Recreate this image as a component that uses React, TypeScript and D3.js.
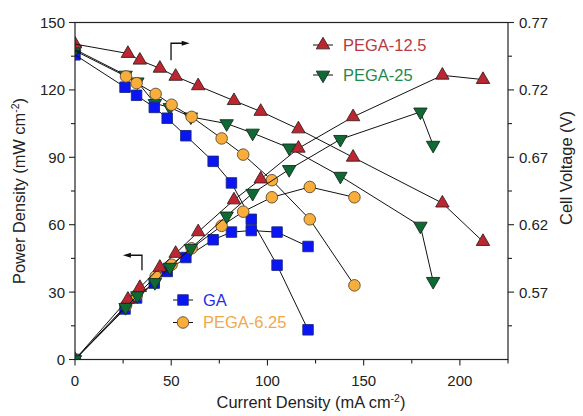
import React from 'react';
import * as d3 from 'd3';

// ---- data (current density mA cm^-2, power density mW cm^-2, cell voltage V)
const GA_J = [0, 26.0, 32.0, 41.2, 47.9, 57.6, 71.8, 81.3, 91.6, 105.0, 121.1];
const GA_P = [0, 22.5, 27.4, 34.0, 39.2, 45.4, 53.3, 56.7, 57.4, 56.7, 50.3];
const GA_V = [0.746, 0.722, 0.716, 0.707, 0.699, 0.686, 0.667, 0.651, 0.624, 0.590, 0.542];

const P625_J = [0, 26.5, 32.0, 41.9, 50.2, 60.6, 76.2, 87.4, 102.3, 122.0, 145.2];
const P625_P = [0, 24.0, 28.5, 37.0, 42.2, 49.5, 59.5, 65.8, 72.2, 76.8, 72.2];
const P625_V = [0.749, 0.730, 0.725, 0.717, 0.709, 0.700, 0.684, 0.672, 0.653, 0.624, 0.575];

const P125_J = [0, 27.5, 33.7, 44.1, 52.3, 64.0, 82.6, 96.5, 116.1, 144.5, 190.9, 212.0];
const P125_P = [0, 26.8, 32.0, 41.0, 47.2, 56.8, 71.0, 80.3, 94.0, 108.0, 126.5, 124.6];
const P125_V = [0.754, 0.747, 0.742, 0.736, 0.730, 0.723, 0.712, 0.704, 0.691, 0.670, 0.636, 0.6075];

const P25_J = [0, 26.3, 32.4, 41.5, 49.3, 60.2, 78.8, 92.3, 111.3, 137.9, 179.5, 186.1];
const P25_P = [0, 23.2, 28.4, 34.3, 41.1, 49.5, 63.9, 74.0, 84.6, 98.0, 110.2, 95.4];
const P25_V = [0.750, 0.731, 0.726, 0.710, 0.707, 0.700, 0.695, 0.688, 0.677, 0.656, 0.619, 0.578];

const SERIES_NAMES = ['GA', 'PEGA-6.25', 'PEGA-12.5', 'PEGA-25'];

const X_TICKS = [0, 50, 100, 150, 200];
const X_MINOR = [25, 75, 125, 175, 225];
const YP_TICKS = [0, 30, 60, 90, 120, 150];
const YP_MINOR = [15, 45, 75, 105, 135];
const YV_TICKS = [0.57, 0.62, 0.67, 0.72, 0.77];
const YV_MINOR = [0.545, 0.595, 0.645, 0.695, 0.745];

// draw orders (series indices)
const POWER_ORDER = [0, 1, 2, 3];
const VOLT_ORDER = [3, 2, 0, 1];
const VOLT_START_ORDER = [1, 0, 3, 2];

// arrow annotations: [J, value] points; last point is arrow tip
const POWER_ARROW = [[34.8, 39.7], [34.8, 46.4], [24.9, 46.4]];
const VOLT_ARROW = [[49.9, 0.742], [49.9, 0.7546], [59.6, 0.7546]];

const FONT = '"Liberation Sans", Arial, Helvetica, sans-serif';

export default function App() {
  const W = 583, H = 416;
  const L = 75, R = 508, T = 22.5, B = 359.5;
  const x = d3.scaleLinear().domain([0, 225]).range([L, R]);
  const yP = d3.scaleLinear().domain([0, 150]).range([B, T]);
  const yV = d3.scaleLinear().domain([0.52, 0.77]).range([B, T]);

  const series = [
    { name: SERIES_NAMES[0], J: GA_J, P: GA_P, V: GA_V, fill: '#0a14f5', stroke: '#1a2a80', text: '#1f2ee0', sym: d3.symbolSquare, size: 110, rot: 0 },
    { name: SERIES_NAMES[1], J: P625_J, P: P625_P, V: P625_V, fill: '#f9ae3c', stroke: '#5a4a30', text: '#f3a84a', sym: d3.symbolCircle, size: 105, rot: 0 },
    { name: SERIES_NAMES[2], J: P125_J, P: P125_P, V: P125_V, fill: '#bb2630', stroke: '#3a2020', text: '#b8393f', sym: d3.symbolTriangle, size: 78, rot: 0 },
    { name: SERIES_NAMES[3], J: P25_J, P: P25_P, V: P25_V, fill: '#0d6a33', stroke: '#1a2a20', text: '#1f8a4c', sym: d3.symbolTriangle, size: 78, rot: 180 },
  ];

  const line = d3.line<[number, number]>().x(d => d[0]).y(d => d[1]);

  const marker = (s: any, cx: number, cy: number, key: string) => (
    <path key={key} d={d3.symbol().type(s.sym).size(s.size)() as string}
      transform={`translate(${cx},${cy}) rotate(${s.rot})`}
      fill={s.fill} stroke={s.stroke} strokeWidth={0.9} />
  );

  const legendPos = [
    { mx: 183, my: 300, tx: 203 },
    { mx: 183, my: 322.5, tx: 203 },
    { mx: 323, my: 45, tx: 343 },
    { mx: 323, my: 75, tx: 343 },
  ];

  const toPx = (pts: number[][], ys: any) => pts.map(d => [x(d[0]), ys(d[1])] as [number, number]);
  const pa = toPx(POWER_ARROW, yP);
  const va = toPx(VOLT_ARROW, yV);

  const head = (p: [number, number][], key: string) => {
    const a = p[p.length - 2], b = p[p.length - 1];
    const ang = Math.atan2(b[1] - a[1], b[0] - a[0]) * 180 / Math.PI;
    return <path key={key} d="M0,0 L-8,-2.6 L-8,2.6 Z" fill="#111" transform={`translate(${b[0]},${b[1]}) rotate(${ang})`} />;
  };
  const shortLine = (p: [number, number][]) => {
    const a = p[p.length - 2], b = p[p.length - 1];
    const len = Math.hypot(b[0] - a[0], b[1] - a[1]);
    const k = (len - 6) / len;
    const q = p.slice(0, -1);
    q.push([a[0] + (b[0] - a[0]) * k, a[1] + (b[1] - a[1]) * k]);
    return line(q) as string;
  };

  const pts = (s: any, vals: number[], ys: any) =>
    s.J.map((j: number, k: number) => [x(j), ys(vals[k])] as [number, number]);

  const drawCurve = (s: any, key: string, vals: number[], ys: any, skipFirst = false) => {
    const p = pts(s, vals, ys);
    return (
      <g key={key}>
        <path d={line(p) as string} fill="none" stroke="#111" strokeWidth={1} />
        {p.map((q: [number, number], k: number) => (skipFirst && k === 0) ? null : marker(s, q[0], q[1], key + k))}
      </g>
    );
  };

  return (
    <svg width={W} height={H} style={{ position: 'absolute', left: 0, top: 0, background: '#fff' }} fontFamily={FONT}>
      <defs>
        <clipPath id="plotClip">
          <rect x={L} y={T} width={R - L} height={B - T} />
        </clipPath>
      </defs>
      <rect x={0} y={0} width={W} height={H} fill="#fff" />
      {/* data */}
      <g clipPath="url(#plotClip)">
        {VOLT_START_ORDER.map(i => {
          const s = series[i];
          return marker(s, x(s.J[0]), yV(s.V[0]), 'vs' + i);
        })}
        {VOLT_ORDER.map(i => drawCurve(series[i], 'v' + i, series[i].V, yV, true))}
        {POWER_ORDER.map(i => drawCurve(series[i], 'p' + i, series[i].P, yP))}
      </g>

      {/* frame */}
      <rect x={L} y={T} width={R - L} height={B - T} fill="none" stroke="#222" strokeWidth={1.2} />

      {/* bottom axis */}
      {X_TICKS.map(t => (
        <g key={'xt' + t}>
          <line x1={x(t)} x2={x(t)} y1={B} y2={B + 6} stroke="#222" strokeWidth={1.1} />
          <text x={x(t)} y={386} textAnchor="middle" fontSize={15} fill="#222">{t}</text>
        </g>
      ))}
      {X_MINOR.map(t => <line key={'xm' + t} x1={x(t)} x2={x(t)} y1={B} y2={B + 4} stroke="#222" strokeWidth={1.1} />)}
      <text x={311} y={408} textAnchor="middle" fontSize={16.4} fill="#222">
        Current Density (mA cm<tspan dy={-6} fontSize={10.5}>-2</tspan><tspan dy={6}>)</tspan>
      </text>

      {/* left axis */}
      {YP_TICKS.map(t => (
        <g key={'yp' + t}>
          <line x1={L - 6} x2={L} y1={yP(t)} y2={yP(t)} stroke="#222" strokeWidth={1.1} />
          <text x={65} y={yP(t)} dy="0.36em" textAnchor="end" fontSize={15} fill="#222">{t}</text>
        </g>
      ))}
      {YP_MINOR.map(t => <line key={'ypm' + t} x1={L - 4} x2={L} y1={yP(t)} y2={yP(t)} stroke="#222" strokeWidth={1.1} />)}
      <text transform={`translate(25,${(T + B) / 2}) rotate(-90)`} textAnchor="middle" fontSize={16.4} fill="#222">
        Power Density (mW cm<tspan dy={-6} fontSize={10.5}>-2</tspan><tspan dy={6}>)</tspan>
      </text>

      {/* right axis */}
      {YV_TICKS.map(t => (
        <g key={'yv' + t}>
          <line x1={R} x2={R + 6} y1={yV(t)} y2={yV(t)} stroke="#222" strokeWidth={1.1} />
          <text x={519} y={yV(t)} dy="0.36em" textAnchor="start" fontSize={15} fill="#222">{t.toFixed(2)}</text>
        </g>
      ))}
      {YV_MINOR.map(t => <line key={'yvm' + t} x1={R} x2={R + 4} y1={yV(t)} y2={yV(t)} stroke="#222" strokeWidth={1.1} />)}
      <text transform={`translate(572,168) rotate(-90)`} textAnchor="middle" fontSize={16.4} fill="#222">
        Cell Voltage (V)
      </text>

      {/* arrows */}
      <path d={shortLine(pa)} fill="none" stroke="#111" strokeWidth={1.3} />
      {head(pa, 'ha')}
      <path d={shortLine(va)} fill="none" stroke="#111" strokeWidth={1.3} />
      {head(va, 'hv')}

      {/* legends */}
      {series.map((s, i) => {
        const lp = legendPos[i];
        return (
          <g key={'lg' + i}>
            <line x1={lp.mx - 10} x2={lp.mx + 10} y1={lp.my} y2={lp.my} stroke="#111" strokeWidth={1} />
            {marker(s, lp.mx, lp.my, 'lm')}
            <text x={lp.tx} y={lp.my} dy="0.36em" fontSize={16.5} fill={s.text}>{s.name}</text>
          </g>
        );
      })}
    </svg>
  );
}
